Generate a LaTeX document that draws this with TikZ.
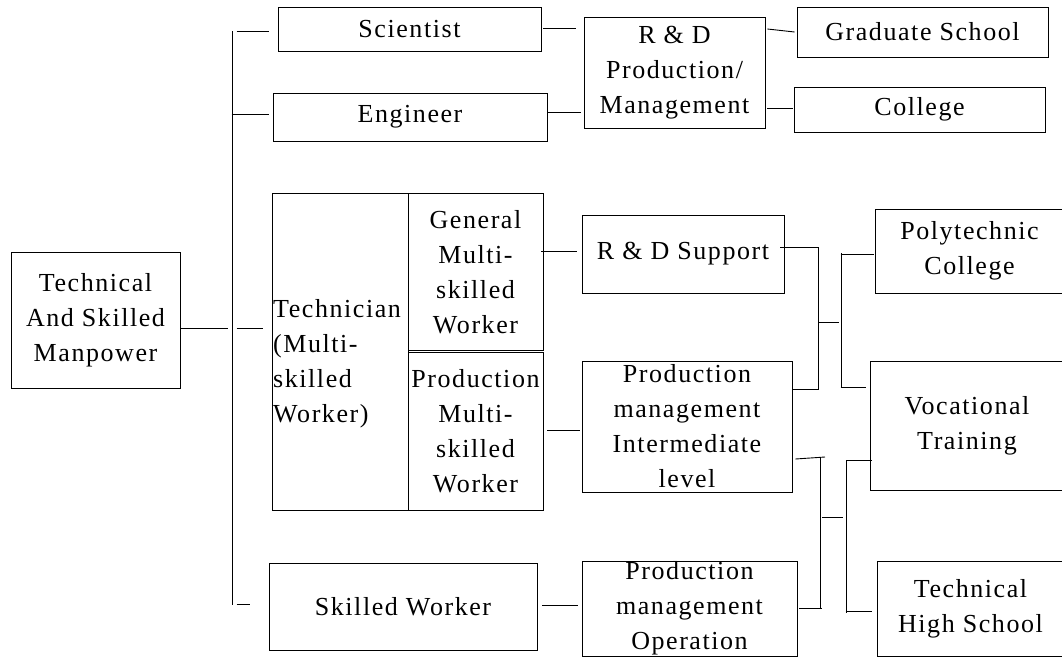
\documentclass[tikz,border=0pt]{standalone}
\usepackage{fontspec}
\setmainfont{Liberation Serif}[LetterSpace=6]
\usetikzlibrary{calc}
\begin{document}
\begin{tikzpicture}[x=1pt,y=-1pt,
  box/.style={draw, line width=0.9pt, inner sep=0pt, rectangle},
  txt/.style={inner sep=0pt, align=center, font=\fontsize{26}{35}\selectfont},
  link/.style={draw, line width=0.9pt}]
\useasboundingbox (0,0) rectangle (1062,657);

% ---- boxes ----
\node[box, minimum width=169pt, minimum height=136pt,
      label={[txt]center:{Technical\\And Skilled\\Manpower}}] (man) at (95.5,320) {};
\node[box, minimum width=263pt, minimum height=44pt,
      label={[txt]center:{Scientist}}] (sci) at (409.5,29) {};
\node[box, minimum width=274pt, minimum height=48pt,
      label={[txt]center:{Engineer}}] (eng) at (410,117) {};

% technician block: left cell plus two stacked cells
\node[box, minimum width=136pt, minimum height=317pt] (techL) at (340,351.5) {};
\node[txt, align=left, anchor=west] (techT) at (273,364) {Technician\\(Multi-\\skilled\\Worker)};
\node[box, minimum width=135pt, minimum height=157.5pt,
      label={[txt]center:{General\\Multi-\\skilled\\Worker}}] (gen) at (475.5,271.75) {};
\node[box, minimum width=135pt, minimum height=157.5pt,
      label={[txt]center:{Production\\Multi-\\skilled\\Worker}}] (prodm) at (475.5,431.25) {};

\node[box, minimum width=268pt, minimum height=87pt,
      label={[txt]center:{Skilled Worker}}] (sw) at (403,606.5) {};

\node[box, minimum width=181pt, minimum height=111pt,
      label={[txt]center:{R \& D\\Production/\\Management}}] (rdp) at (674.5,72.5) {};
\node[box, minimum width=202pt, minimum height=78pt,
      label={[txt]center:{R \& D Support}}] (rds) at (683,254) {};
\node[box, minimum width=210pt, minimum height=131pt,
      label={[txt]center:{Production\\management\\Intermediate\\level}}] (inter) at (687,426.5) {};
\node[box, minimum width=215pt, minimum height=95pt,
      label={[txt]center:{Production\\management\\Operation}}] (op) at (689.5,608.5) {};

\node[box, minimum width=251pt, minimum height=50pt,
      label={[txt]center:{Graduate School}}] (grad) at (922.5,32) {};
\node[box, minimum width=251pt, minimum height=45pt,
      label={[txt]center:{College}}] (col) at (919.5,109.5) {};
\node[box, minimum width=189pt, minimum height=84pt,
      label={[txt]center:{Polytechnic\\College}}] (poly) at (969.5,251) {};
\node[box, minimum width=194pt, minimum height=129pt,
      label={[txt]center:{Vocational\\Training}}] (voc) at (967,425.5) {};
\node[box, minimum width=187pt, minimum height=95pt,
      label={[txt]center:{Technical\\High School}}] (ths) at (970.5,608.5) {};

% ---- left trunk ----
\coordinate (trT) at (232,31);
\coordinate (trB) at (232,605);
\draw[link] (trT) -- (trB);
\draw[link] ($(man.east)+(0,8)$) -- ($(trT |- man.east)+(-4,8)$);
\draw[link] ($(sci.west)+(-41,2)$) -- ($(sci.west)+(-9,2)$);
\draw[link] ($(eng.west)+(-41,-3)$) -- ($(eng.west)+(-4,-3)$);
\draw[link] ($(techL.west)+(-35,-23.5)$) -- ($(techL.west)+(-9,-23.5)$);
\draw[link] ($(sw.west)+(-32,-2.5)$) -- ($(sw.west)+(-19,-2.5)$);

% ---- second column links ----
\draw[link] ($(sci.east)+(2,-1)$) -- ($(rdp.west |- sci.east)+(-8,-1)$);
\draw[link] ($(eng.east)+(0,-5)$) -- ($(rdp.west |- eng.east)+(-3,-5)$);
\draw[link] ($(gen.east)+(-2,-20.75)$) -- ($(rds.west)+(-5,-3)$);
\draw[link] ($(prodm.east)+(4,-1.25)$) -- ($(inter.west)+(-2,3.5)$);
\draw[link] ($(sw.east)+(5,-1.5)$) -- ($(op.west)+(-4,-3.5)$);

% ---- to schools ----
\draw[link] ($(rdp.east)+(2,-43.5)$) -- ($(grad.west)+(-2,0)$);
\draw[link] ($(rdp.east)+(2,35.5)$) -- ($(col.west)+(-1,-1.5)$);

% upper bracket: R&D Support / Intermediate -> Polytechnic / Vocational
\coordinate (b1t) at (818,247);
\coordinate (b1b) at (818,389);
\coordinate (b1m) at (819,322);
\coordinate (b2m) at (839,322);
\coordinate (b2t) at (841,253);
\coordinate (b2b) at (841,388);
\draw[link] ($(rds.east)+(-4,-7)$) -- (b1t) -- (b1b) -- ($(inter.east)+(0,-37.5)$);
\draw[link] (b1m) -- (b2m);
\draw[link] (b2t) -- (b2b);
\draw[link] ($(poly.west)+(-34,3)$) -- ($(poly.west)+(-1,3)$);
\draw[link] ($(voc.west)+(-29,-38.5)$) -- ($(voc.west)+(-4,-38.5)$);

% lower bracket: Intermediate / Operation -> Vocational / Technical High School
\coordinate (b3s) at (825,457);
\coordinate (b3t) at (820,458);
\coordinate (b3b) at (820,608);
\coordinate (b3e) at (822,608);
\coordinate (b3m) at (822,517);
\coordinate (b4m) at (843,517);
\coordinate (b4t) at (846,460);
\coordinate (b4b) at (846,613);
\draw[link] ($(inter.east)+(3,32.5)$) -- (b3s);
\draw[link] (b3t) -- (b3b);
\draw[link] ($(op.east)+(2,-0.5)$) -- (b3e);
\draw[link] (b3m) -- (b4m);
\draw[link] (b4t) -- (b4b);
\draw[link] ($(voc.west)+(-23,34.5)$) -- ($(voc.west)+(2,34.5)$);
\draw[link] ($(ths.west)+(-31,2.5)$) -- ($(ths.west)+(-5,2.5)$);
\end{tikzpicture}
\end{document}
